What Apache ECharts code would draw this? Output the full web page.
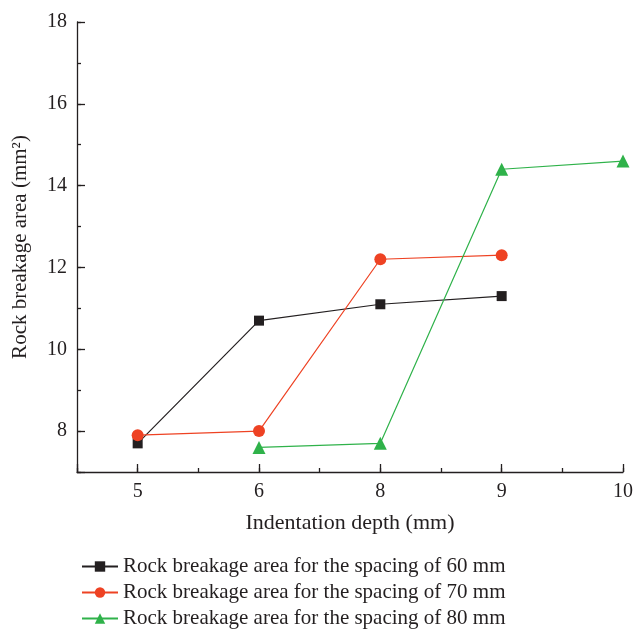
<!DOCTYPE html>
<html><head><meta charset="utf-8">
<script src="https://cdn.jsdelivr.net/npm/echarts@6/dist/echarts.min.js"></script>
<style>html,body{margin:0;padding:0;background:#fff}#c{width:641px;height:629px}</style>
</head><body><div id="c"></div>
<script>
const categories = ['5', '6', '8', '9', '10'];
const s60 = [7.7, 10.7, 11.1, 11.3, null];
const s70 = [7.9, 8.0, 12.2, 12.3, null];
const s80 = [null, 7.6, 7.7, 14.4, 14.6];
const seriesNames = [
  'Rock breakage area for the spacing of 60 mm',
  'Rock breakage area for the spacing of 70 mm',
  'Rock breakage area for the spacing of 80 mm'
];
const FONT = 'Liberation Serif';
const txt = '#231f20';
function pts(arr){ const r=[]; arr.forEach((v,i)=>{ if(v!=null) r.push([i,v]); }); return r; }
const chart = echarts.init(document.getElementById('c'));
const axLine = {show:true, onZero:false, lineStyle:{color:txt, width:1.3}};
chart.setOption({
  animation:false,
  textStyle:{fontFamily:FONT},
  grid:{left:77, right:18, top:22, bottom:157},
  legend:{
    orient:'vertical', left:76, top:551, width:560, height:80, itemWidth:36, itemHeight:13, itemGap:5,
    textStyle:{fontFamily:FONT, fontSize:21, color:txt},
    data:seriesNames
  },
  xAxis:[
    {type:'value', min:-0.5, max:4, position:'bottom',
     axisLine:axLine, splitLine:{show:false},
     axisTick:{show:true, inside:true, length:8, lineStyle:{color:txt, width:1.3}},
     axisLabel:{fontFamily:FONT, fontSize:20, color:txt, margin:10,
       formatter:v=> (Number.isInteger(v) && v>=0 && v<categories.length) ? categories[v] : ''},
     name:'Indentation depth (mm)', nameLocation:'middle', nameGap:40,
     nameTextStyle:{fontFamily:FONT, fontSize:22, color:txt}},
    {type:'value', min:-0.5, max:4, interval:0.5, position:'bottom',
     axisLine:{show:false, onZero:false}, splitLine:{show:false}, axisLabel:{show:false},
     axisTick:{show:true, inside:true, length:4, lineStyle:{color:txt, width:1.3}}}
  ],
  yAxis:[
    {type:'value', min:7, max:18, position:'left',
     axisLine:axLine, splitLine:{show:false},
     axisTick:{show:true, inside:true, length:8, lineStyle:{color:txt, width:1.3}},
     axisLabel:{fontFamily:FONT, fontSize:20, color:txt, margin:10,
       formatter:v=> (v%2===0) ? String(v) : ''},
     name:'Rock breakage area (mm²)', nameLocation:'middle', nameGap:46, nameRotate:90,
     nameTextStyle:{fontFamily:FONT, fontSize:21, color:txt}},
    {type:'value', min:7, max:18, interval:1, position:'left',
     axisLine:{show:false, onZero:false}, splitLine:{show:false}, axisLabel:{show:false},
     axisTick:{show:true, inside:true, length:4, lineStyle:{color:txt, width:1.3}}}
  ],
  series:[
    {name:seriesNames[0], type:'line', data:pts(s60), symbol:'rect', symbolSize:10,
     itemStyle:{color:'#231f20'}, lineStyle:{color:'#231f20', width:1.2}},
    {name:seriesNames[1], type:'line', data:pts(s70), symbol:'circle', symbolSize:12,
     itemStyle:{color:'#ee4223'}, lineStyle:{color:'#ee4223', width:1.2}},
    {name:seriesNames[2], type:'line', data:pts(s80), symbol:'triangle', symbolSize:13,
     itemStyle:{color:'#2fb24a'}, lineStyle:{color:'#2fb24a', width:1.2}}
  ]
});
</script></body></html>
